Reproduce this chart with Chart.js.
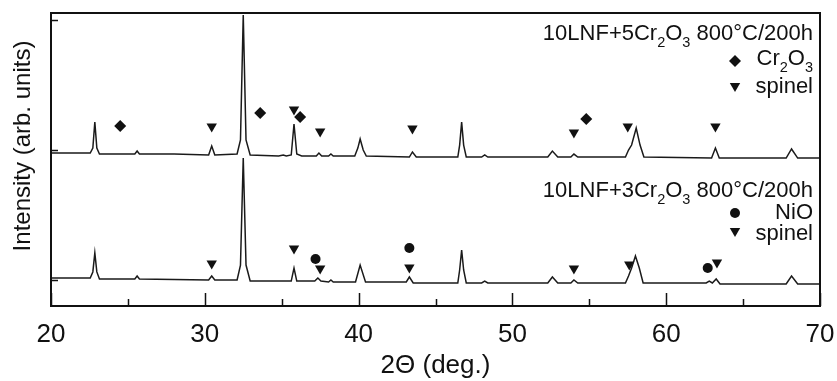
<!DOCTYPE html>
<html>
<head>
<meta charset="utf-8">
<script src="https://cdn.jsdelivr.net/npm/chart.js@4.4.0/dist/chart.umd.min.js"></script>
<style>
  html, body { margin: 0; padding: 0; background: #fff; }
</style>
</head>
<body>
<canvas id="xrdChart" width="837" height="381"></canvas>
<script>
// 10LNF+5Cr2O3 pattern (upper trace)
const top2theta = [20.0, 22.55, 22.72, 22.85, 22.98, 23.15, 25.45, 25.6, 25.75, 28.0,
  30.25, 30.45, 30.65, 32.1, 32.32, 32.5, 32.68, 32.95, 34.8, 35.1, 35.3, 35.62, 35.8, 35.98,
  36.3, 37.25, 37.42, 37.6, 38.05, 38.2, 38.35, 39.75, 39.95, 40.1, 40.3, 40.5, 43.3, 43.5,
  43.75, 46.45, 46.57, 46.7, 46.83, 47.0, 48.0, 48.2, 48.4, 52.3, 52.6, 52.95, 53.8, 54.0,
  54.25, 57.35, 57.55, 57.75, 58.05, 58.3, 58.55, 62.95, 63.2, 63.45, 67.8, 68.15, 68.55, 70.0];
const topCounts = [1977, 1977, 2015, 2215, 2015, 1969, 1969, 1992, 1969, 1969,
  1962, 2031, 1962, 1969, 2077, 3038, 2077, 1962, 1954, 1962, 1954, 1962, 2200, 1969,
  1954, 1954, 1977, 1954, 1954, 1969, 1954, 1954, 2015, 2085, 2000, 1954, 1946, 1985,
  1946, 1946, 2038, 2215, 2038, 1946, 1946, 1962, 1946, 1946, 1992, 1946, 1946, 1969,
  1946, 1946, 2000, 2038, 2169, 2038, 1946, 1938, 2015, 1938, 1938, 2008, 1938, 1938];

// 10LNF+3Cr2O3 pattern (lower trace)
const low2theta = [20.0, 22.55, 22.72, 22.85, 22.98, 23.15, 25.45, 25.6, 25.75, 30.25,
  30.45, 30.65, 32.1, 32.32, 32.5, 32.68, 32.95, 35.62, 35.8, 35.98, 37.15, 37.35, 37.55,
  38.05, 38.2, 38.35, 39.8, 40.1, 40.45, 43.1, 43.3, 43.55, 46.45, 46.57, 46.7, 46.83, 47.0,
  48.0, 48.2, 48.4, 52.3, 52.6, 52.95, 53.8, 54.0, 54.25, 57.35, 57.55, 57.75, 58.0, 58.25,
  58.5, 62.6, 62.8, 63.0, 63.25, 63.5, 67.8, 68.15, 68.55, 70.0];
const lowCounts = [1015, 1015, 1062, 1208, 1062, 1008, 1008, 1031, 1008, 1000,
  1031, 1000, 1000, 1115, 1938, 1115, 992, 992, 1092, 992, 992, 1015, 992,
  985, 1000, 985, 985, 1115, 985, 985, 1023, 977, 977, 1077, 1231, 1077, 977,
  977, 992, 977, 977, 1023, 977, 977, 1000, 977, 977, 1031, 1092, 1185, 1092,
  977, 977, 992, 977, 1008, 969, 969, 1031, 969, 969];

// phase markers: [2theta, height]
const topCr2O3 = [[24.5, 2185], [33.6, 2285], [36.2, 2254], [54.8, 2238]];
const topSpinel = [[30.45, 2180], [35.8, 2311], [37.5, 2142], [43.5, 2165], [54.0, 2134], [57.5, 2180], [63.2, 2180]];
const lowSpinel = [[30.45, 1126], [35.8, 1242], [37.5, 1088], [43.3, 1096], [54.0, 1088], [57.6, 1119], [63.3, 1134]];
const lowNiO = [[37.2, 1162], [43.3, 1246], [62.7, 1092]];

const xTicks = [20, 30, 40, 50, 60, 70];

const FONT = '"Liberation Sans", Arial, sans-serif';
const INK = '#111';

function toPoints(xs, ys) {
  return xs.map((v, i) => ({ x: v, y: ys[i] }));
}
function pairs(list) {
  return list.map(p => ({ x: p[0], y: p[1] }));
}

// draws text with subscripts, right-aligned
function drawRich(ctx, parts, right, baseline, size) {
  const sub = size * 0.66;
  let total = 0;
  for (const p of parts) {
    ctx.font = (p[1] ? sub : size) + 'px ' + FONT;
    total += ctx.measureText(p[0]).width;
  }
  let x = right - total;
  ctx.textAlign = 'left';
  ctx.textBaseline = 'alphabetic';
  for (const p of parts) {
    ctx.font = (p[1] ? sub : size) + 'px ' + FONT;
    ctx.fillText(p[0], x, baseline + (p[1] ? size * 0.3 : 0));
    x += ctx.measureText(p[0]).width;
  }
}

const framePlugin = {
  id: 'frame',
  afterDraw(chart) {
    const { ctx, chartArea: a, scales: { x, y } } = chart;
    ctx.save();
    ctx.strokeStyle = INK;
    ctx.lineWidth = 2;
    ctx.strokeRect(a.left, a.top, a.right - a.left, a.bottom - a.top);

    // inward tick marks
    ctx.lineWidth = 1.5;
    ctx.beginPath();
    for (let v = 20; v <= 70; v += 5) {
      const px = Math.round(x.getPixelForValue(v)) + 0.5;
      const len = v % 10 === 0 ? 13 : 7;
      ctx.moveTo(px, a.bottom);
      ctx.lineTo(px, a.bottom - len);
    }
    for (let v = 1000; v <= 3000; v += 1000) {
      const py = Math.round(y.getPixelForValue(v)) + 0.5;
      ctx.moveTo(a.left, py);
      ctx.lineTo(a.left + 7, py);
    }
    ctx.stroke();

    // sample labels
    ctx.fillStyle = INK;
    drawRich(ctx, [['10LNF+5Cr'], ['2', 1], ['O'], ['3', 1], [' 800°C/200h']], 813, 40, 22);
    drawRich(ctx, [['Cr'], ['2', 1], ['O'], ['3', 1]], 813, 65, 22);
    drawRich(ctx, [['spinel']], 813, 93, 22);
    drawRich(ctx, [['10LNF+3Cr'], ['2', 1], ['O'], ['3', 1], [' 800°C/200h']], 813, 197, 22);
    drawRich(ctx, [['NiO']], 813, 219, 22);
    drawRich(ctx, [['spinel']], 813, 240, 22);

    const h = Chart.helpers;
    h.drawPoint(ctx, { pointStyle: 'rectRot', radius: 6, rotation: 0 }, 735, 61);
    h.drawPoint(ctx, { pointStyle: 'triangle', radius: 6, rotation: 180 }, 735, 86);
    h.drawPoint(ctx, { pointStyle: 'circle', radius: 5, rotation: 0 }, 735, 213);
    h.drawPoint(ctx, { pointStyle: 'triangle', radius: 6, rotation: 180 }, 735, 231);

    // y axis title
    ctx.translate(23, 146);
    ctx.rotate(-Math.PI / 2);
    ctx.font = '24px ' + FONT;
    ctx.textAlign = 'center';
    ctx.textBaseline = 'middle';
    ctx.fillText('Intensity (arb. units)', 0, 0);
    ctx.restore();
  }
};

const markerStyle = {
  showLine: false,
  backgroundColor: INK,
  borderColor: INK,
  borderWidth: 0
};

new Chart(document.getElementById('xrdChart'), {
  type: 'scatter',
  data: {
    datasets: [
      { label: '10LNF+5Cr2O3', data: toPoints(top2theta, topCounts), showLine: true,
        borderColor: '#1a1a1a', borderWidth: 1.5, pointRadius: 0, tension: 0 },
      { label: '10LNF+3Cr2O3', data: toPoints(low2theta, lowCounts), showLine: true,
        borderColor: '#1a1a1a', borderWidth: 1.5, pointRadius: 0, tension: 0 },
      { label: 'Cr2O3', data: pairs(topCr2O3), pointStyle: 'rectRot', pointRadius: 6, ...markerStyle },
      { label: 'spinel', data: pairs(topSpinel), pointStyle: 'triangle', rotation: 180, pointRadius: 6, ...markerStyle },
      { label: 'spinel ', data: pairs(lowSpinel), pointStyle: 'triangle', rotation: 180, pointRadius: 6, ...markerStyle },
      { label: 'NiO', data: pairs(lowNiO), pointStyle: 'circle', pointRadius: 5, ...markerStyle }
    ]
  },
  options: {
    responsive: false,
    animation: false,
    layout: { padding: { left: 0, right: 17, top: 13, bottom: 0 } },
    plugins: { legend: { display: false }, tooltip: { enabled: false } },
    scales: {
      x: {
        type: 'linear',
        min: 20,
        max: 70,
        afterBuildTicks: s => { s.ticks = xTicks.map(v => ({ value: v })); },
        afterFit: s => { s.height = 75; s.paddingLeft = 0; s.paddingRight = 0; },
        grid: { display: false },
        border: { display: false },
        ticks: { font: { family: FONT, size: 26 }, color: INK, padding: 5, maxRotation: 0 },
        title: { display: true, text: '2Θ (deg.)', font: { family: FONT, size: 26 }, color: INK,
          padding: { top: 0, bottom: 0 } }
      },
      y: {
        min: 800,
        max: 3054,
        afterFit: s => { s.width = 51; },
        grid: { display: false },
        border: { display: false },
        ticks: { display: false }
      }
    }
  },
  plugins: [framePlugin]
});
</script>
</body>
</html>
